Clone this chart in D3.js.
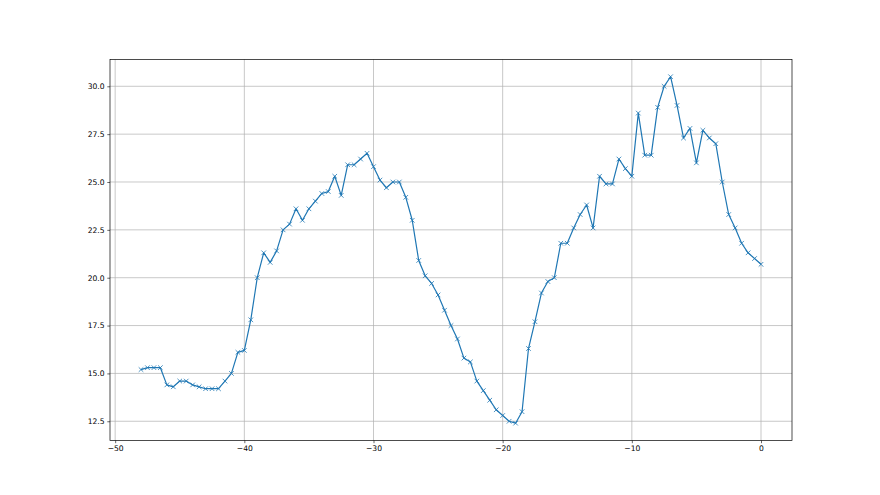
<!DOCTYPE html>
<html>
<head>
<meta charset="utf-8">
<script src="https://cdn.jsdelivr.net/npm/d3@7"></script>
<style>
  body { margin: 0; background: #fff; }
  svg { display: block; }
  .tick text { font-family: "DejaVu Sans", sans-serif; font-size: 7.6px; fill: #000; }
</style>
</head>
<body>
<div id="chart"></div>
<script>
// x positions: -48 .. 0 in steps of 0.5
const xValues = d3.range(-48, 0.01, 0.5);

const yValues = [
    15.2, 15.3, 15.3, 15.3, 14.4, 14.3, 14.6, 14.6, 14.4, 14.3,
    14.2, 14.2, 14.2, 14.6, 15.0, 16.1, 16.2, 17.8, 20.0, 21.3,
    20.8, 21.4, 22.5, 22.8, 23.6, 23.0, 23.6, 24.0, 24.4, 24.5,
    25.3, 24.3, 25.9, 25.9, 26.2, 26.5, 25.8, 25.1, 24.7, 25.0,
    25.0, 24.2, 23.0, 20.9, 20.1, 19.7, 19.1, 18.3, 17.5, 16.8,
    15.8, 15.6, 14.6, 14.1, 13.6, 13.1, 12.8, 12.5, 12.4, 13.0,
    16.3, 17.7, 19.2, 19.8, 20.0, 21.8, 21.8, 22.6, 23.3, 23.8,
    22.6, 25.3, 24.9, 24.9, 26.2, 25.7, 25.3, 28.6, 26.4, 26.4,
    28.9, 30.0, 30.5, 29.0, 27.3, 27.8, 26.0, 27.7, 27.3, 27.0,
    25.0, 23.3, 22.6, 21.8, 21.3, 21.0, 20.7
];

const xTicks = [-50, -40, -30, -20, -10, 0];
const yTicks = [12.5, 15.0, 17.5, 20.0, 22.5, 25.0, 27.5, 30.0];

const data = xValues.map((x, i) => ({ x: x, y: yValues[i] }));

const dim = { width: 880, height: 495, left: 110, right: 792, top: 59.4, bottom: 440.5 };
const color = '#1f77b4';

// matplotlib style 5% margins
const pad = (ext) => {
    const m = (ext[1] - ext[0]) * 0.05;
    return [ext[0] - m, ext[1] + m];
};

const x = d3.scaleLinear()
    .domain(pad(d3.extent(xValues)))
    .range([dim.left, dim.right]);

const y = d3.scaleLinear()
    .domain(pad(d3.extent(yValues)))
    .range([dim.bottom, dim.top]);

const svg = d3.select('#chart')
    .append('svg')
        .attr('width', dim.width)
        .attr('height', dim.height);

const g = svg.append('g');

// grid
g.append('g')
    .selectAll('line')
    .data(xTicks)
    .enter()
    .append('line')
        .attr('x1', d => x(d)).attr('x2', d => x(d))
        .attr('y1', dim.top).attr('y2', dim.bottom)
        .attr('stroke', '#b0b0b0')
        .attr('stroke-width', 0.7);

g.append('g')
    .selectAll('line')
    .data(yTicks)
    .enter()
    .append('line')
        .attr('x1', dim.left).attr('x2', dim.right)
        .attr('y1', d => y(d)).attr('y2', d => y(d))
        .attr('stroke', '#b0b0b0')
        .attr('stroke-width', 0.7);

// line
g.append('path')
    .datum(data)
    .attr('fill', 'none')
    .attr('stroke', color)
    .attr('stroke-width', 1.2)
    .attr('stroke-linejoin', 'round')
    .attr('d', d3.line().x(d => x(d.x)).y(d => y(d.y)));

// x markers
const ms = 2.3;
g.append('g')
    .selectAll('path')
    .data(data)
    .enter()
    .append('path')
        .attr('d', d => {
            const cx = x(d.x), cy = y(d.y);
            return `M${cx - ms},${cy - ms}L${cx + ms},${cy + ms}M${cx - ms},${cy + ms}L${cx + ms},${cy - ms}`;
        })
        .attr('stroke', color)
        .attr('stroke-width', 0.8)
        .attr('fill', 'none');

// axes
const xAxis = g.append('g')
    .attr('transform', `translate(0, ${dim.bottom})`)
    .call(d3.axisBottom(x).tickValues(xTicks).tickSize(2.7).tickPadding(2.7)
        .tickFormat(d => d < 0 ? '\u2212' + Math.abs(d) : d));

const yAxis = g.append('g')
    .attr('transform', `translate(${dim.left}, 0)`)
    .call(d3.axisLeft(y).tickValues(yTicks).tickSize(2.7).tickPadding(2.7).tickFormat(d3.format('.1f')));

[xAxis, yAxis].forEach(a => {
    a.select('.domain').remove();
    a.selectAll('.tick line').attr('stroke', '#000').attr('stroke-width', 0.6);
});

// frame
g.append('rect')
    .attr('x', dim.left)
    .attr('y', dim.top)
    .attr('width', dim.right - dim.left)
    .attr('height', dim.bottom - dim.top)
    .attr('fill', 'none')
    .attr('stroke', '#000')
    .attr('stroke-width', 0.7);
</script>
</body>
</html>
